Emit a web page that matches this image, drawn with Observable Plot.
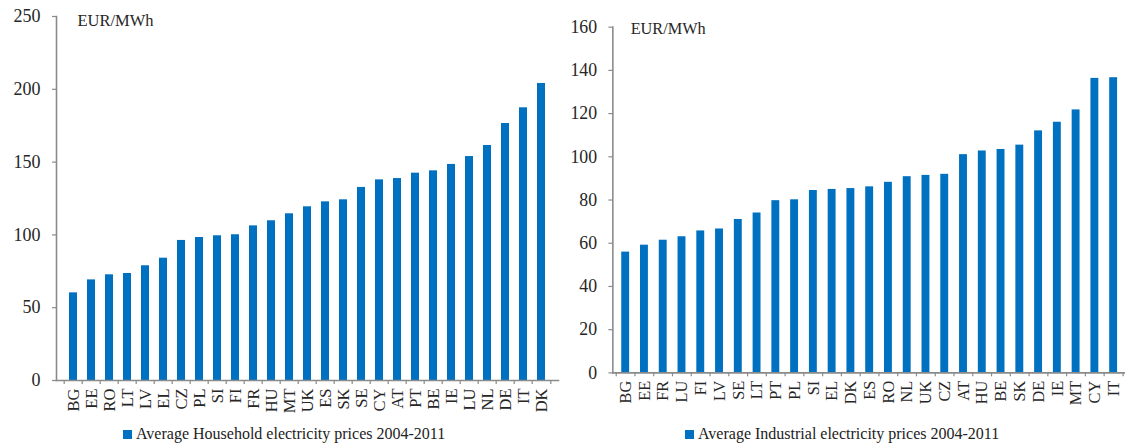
<!DOCTYPE html>
<html><head><meta charset="utf-8">
<script src="https://cdn.jsdelivr.net/npm/d3@7"></script>
<script src="https://cdn.jsdelivr.net/npm/@observablehq/plot@0.6"></script>
<style>
html,body{margin:0;padding:0;background:#fff;overflow:hidden;}
#wrap{position:relative;width:1125px;height:443px;overflow:hidden;font-family:"Liberation Serif","DejaVu Serif","Times New Roman",serif;color:#222;}
.panel{position:absolute;top:0;}
.legend{position:absolute;top:425px;font-size:16px;line-height:18px;display:flex;align-items:center;white-space:nowrap;color:#222;}
.sw{display:inline-block;width:9px;height:9px;background:#0070C0;margin-right:4px;}
</style></head><body>
<div id="wrap">
  <div class="panel" id="left" style="left:0px"></div>
  <div class="panel" id="right" style="left:560px"></div>
  <div class="legend" style="left:123px"><span class="sw"></span><span id="leg1"></span></div>
  <div class="legend" style="left:685px"><span class="sw"></span><span id="leg2"></span></div>
</div>
<script>
// ---- Data ----
const householdCountries = ["BG","EE","RO","LT","LV","EL","CZ","PL","SI","FI","FR","HU","MT","UK","ES","SK","SE","CY","AT","PT","BE","IE","LU","NL","DE","IT","DK"];
const householdPrices = [60.2,69.1,72.6,73.5,78.8,84.0,96.2,98.2,99.4,100.1,106.2,109.7,114.5,119.3,122.7,124.1,132.6,137.8,138.7,142.4,144.0,148.4,153.8,161.4,176.5,187.3,204.0];
const householdTicks = [0,50,100,150,200,250];
const householdLabel = "Average Household electricity prices 2004-2011";

const industrialCountries = ["BG","EE","FR","LU","FI","LV","SE","LT","PT","PL","SI","EL","DK","ES","RO","NL","UK","CZ","AT","HU","BE","SK","DE","IE","MT","CY","IT"];
const industrialPrices = [55.9,59.1,61.4,63.0,65.7,66.6,71.0,74.0,79.7,80.1,84.4,84.9,85.3,86.1,88.2,90.8,91.4,91.9,101.0,102.7,103.4,105.4,112.0,116.0,121.7,136.3,136.6];
const industrialTicks = [0,20,40,60,80,100,120,140,160];
const industrialLabel = "Average Industrial electricity prices 2004-2011";

const unitLabel = "EUR/MWh";
const barColor = "#0070C0";
const axisColor = "#8a8a8a";
const textColor = "#262626";

function makeChart(cats, vals, ticks, opt) {
  const data = cats.map((c, i) => ({country: c, value: vals[i]}));
  const n = cats.length;
  const rangeW = opt.width - opt.marginLeft - opt.marginRight;
  const step = rangeW / (n - opt.pi + 2 * opt.po);
  return Plot.plot({
    width: opt.width,
    height: 420,
    marginLeft: opt.marginLeft,
    marginRight: opt.marginRight,
    marginTop: opt.marginTop,
    marginBottom: opt.marginBottom,
    style: {fontFamily: "'Liberation Serif','DejaVu Serif','Times New Roman',serif", color: textColor, background: "transparent", overflow: "visible"},
    x: {type: "band", domain: cats, paddingInner: opt.pi, paddingOuter: opt.po, label: null},
    y: {domain: [0, ticks[ticks.length - 1]], label: null},
    marks: [
      Plot.barY(data, {x: "country", y: "value", fill: barColor}),
      Plot.frame({anchor: "left", stroke: axisColor, strokeWidth: 1.6}),
      Plot.frame({anchor: "bottom", stroke: axisColor, strokeWidth: 1.6}),
      Plot.axisY({ticks: ticks, tickSize: 4, tickPadding: 12, fontSize: 18, stroke: axisColor, strokeWidth: 1.2, fill: textColor, label: null}),
      // small separator ticks between categories
      Plot.axisX({ticks: cats, tickSize: 4, tickFormat: () => "", dx: -step / 2, stroke: axisColor, strokeWidth: 1.2, label: null}),
      Plot.axisX({ticks: cats.slice(-1), tickSize: 4, tickFormat: () => "", dx: step / 2, stroke: axisColor, strokeWidth: 1.2, label: null}),
      Plot.axisX({tickRotate: -90, tickSize: 0, tickPadding: 8, fontSize: 16.5, fill: textColor, label: null}),
      Plot.text([unitLabel], {frameAnchor: "top-left", dx: opt.unitDx, dy: opt.unitDy, textAnchor: "start", lineAnchor: "middle", fontSize: 16.5, fill: textColor})
    ]
  });
}

document.getElementById("left").append(makeChart(householdCountries, householdPrices, householdTicks,
  {width: 562, marginLeft: 56, marginRight: 4, marginTop: 16, marginBottom: 40, pi: 0.57, po: 0.27, unitDx: 21, unitDy: 4}));
document.getElementById("right").append(makeChart(industrialCountries, industrialPrices, industrialTicks,
  {width: 572, marginLeft: 53, marginRight: 0, marginTop: 27, marginBottom: 43, pi: 0.583, po: 0.297, unitDx: 18, unitDy: 2}));
document.getElementById("leg1").textContent = householdLabel;
document.getElementById("leg2").textContent = industrialLabel;
</script>
</body></html>
